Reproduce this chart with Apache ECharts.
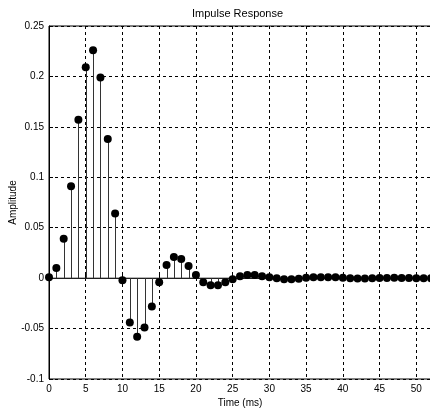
<!DOCTYPE html>
<html>
<head>
<meta charset="utf-8">
<script src="https://cdn.jsdelivr.net/npm/echarts@6/dist/echarts.min.js"></script>
<style>
  html, body { margin: 0; padding: 0; background: #fff; }
  #main { width: 430px; height: 412px; }
</style>
</head>
<body>
<div id="main"></div>
<script>
// 时间 (ms)
var timeMs = [0, 1, 2, 3, 4, 5, 6, 7, 8, 9, 10, 11, 12, 13, 14, 15, 16, 17, 18, 19,
    20, 21, 22, 23, 24, 25, 26, 27, 28, 29, 30, 31, 32, 33, 34, 35, 36, 37, 38, 39,
    40, 41, 42, 43, 44, 45, 46, 47, 48, 49, 50, 51, 52];
// 脉冲响应幅值
var amplitude = [0.001, 0.010, 0.039, 0.091, 0.157, 0.209, 0.226, 0.199, 0.138, 0.064,
    -0.002, -0.044, -0.058, -0.049, -0.028, -0.004, 0.013, 0.021, 0.019, 0.012,
    0.003, -0.004, -0.007, -0.007, -0.004, -0.001, 0.002, 0.003, 0.003, 0.002,
    0.001, 0.000, -0.001, -0.001, -0.0005, 0.0005, 0.001, 0.001, 0.001, 0.0008,
    0.0004, 0.0, -0.0003, -0.0003, -0.0002, 0.0001, 0.0002, 0.0003, 0.0002, 0.0001,
    0.0, -0.0001, -0.0001];

var points = timeMs.map(function (t, i) { return [t, amplitude[i]]; });

var myChart = echarts.init(document.getElementById('main'));
var font = 'Liberation Sans, Arial, sans-serif';

var option = {
    animation: false,
    title: {
        text: 'Impulse Response',
        left: 187,
        top: 3,
        textStyle: { fontSize: 11, fontWeight: 'normal', color: '#000', fontFamily: font }
    },
    grid: {
        left: 49,
        top: 26,
        right: -1,
        bottom: 33,
        containLabel: false,
        outerBoundsMode: 'none',
        show: true,
        borderColor: '#000',
        borderWidth: 1
    },
    xAxis: {
        type: 'value',
        min: 0,
        max: 52,
        interval: 5,
        name: 'Time (ms)',
        nameLocation: 'middle',
        nameGap: 19,
        nameMoveOverlap: false,
        nameTextStyle: { fontSize: 10, color: '#000', fontFamily: font },
        axisLine: { lineStyle: { color: '#000' } },
        axisTick: { inside: true, length: 4, lineStyle: { color: '#000' } },
        axisLabel: { showMaxLabel: false, fontSize: 10, color: '#000', fontFamily: font, margin: 5 },
        splitLine: { show: true, lineStyle: { color: '#000', type: [3, 3], width: 1 } }
    },
    yAxis: {
        type: 'value',
        min: -0.1,
        max: 0.25,
        interval: 0.05,
        name: 'Amplitude',
        nameLocation: 'middle',
        nameGap: 31,
        nameMoveOverlap: false,
        nameTextStyle: { fontSize: 10, color: '#000', fontFamily: font },
        axisLine: { show: true, lineStyle: { color: '#000' } },
        axisTick: { show: true, inside: true, length: 4, lineStyle: { color: '#000' } },
        axisLabel: { fontSize: 10, color: '#000', fontFamily: font, margin: 5 },
        splitLine: { show: true, lineStyle: { color: '#000', type: [3, 3], width: 1 } }
    },
    series: [
        {
            // 基线
            type: 'line',
            data: [[0, 0], [52, 0]],
            symbol: 'none',
            silent: true,
            lineStyle: { color: '#333', width: 1 },
            z: 2
        },
        {
            // 茎线
            type: 'custom',
            data: points,
            renderItem: function (params, api) {
                var p0 = api.coord([api.value(0), 0]);
                var p1 = api.coord([api.value(0), api.value(1)]);
                return {
                    type: 'line',
                    shape: { x1: Math.round(p0[0]) + 0.5, y1: p0[1], x2: Math.round(p1[0]) + 0.5, y2: p1[1] },
                    style: { stroke: '#333', lineWidth: 1 }
                };
            },
            z: 3
        },
        {
            type: 'scatter',
            data: points,
            symbol: 'circle',
            symbolSize: 8,
            itemStyle: { color: '#000', opacity: 1 },
            z: 4
        }
    ]
};
myChart.setOption(option);
</script>
</body>
</html>
